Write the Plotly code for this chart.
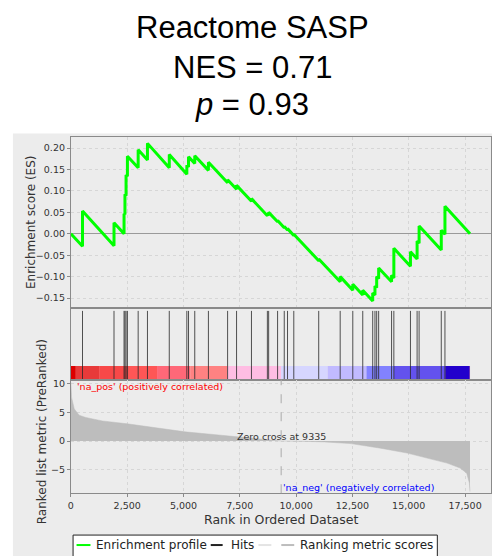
import plotly.graph_objects as go

W, H = 492, 556

# ---------------- data ----------------
n_genes = 17720
zero_cross = 9335

hit_ranks = [516, 1915, 2360, 2400, 2450, 2510, 2987, 3400, 4368, 5148, 5223, 5500,
             6106, 6958, 7355, 8017, 8723, 8780, 9177, 9473, 9618, 9896, 11003, 11956,
             12516, 12958, 13400, 13500, 13576, 13664, 14237, 14339, 15076, 15371, 15460,
             16444, 16607]
es_before = [-0.029, -0.028, 0.000, 0.045, 0.089, 0.134, 0.154, 0.172, 0.154, 0.139, 0.156, 0.164,
             0.148, 0.119, 0.104, 0.076, 0.042, 0.043, 0.028, 0.014, 0.009, -0.004, -0.063, -0.112,
             -0.132, -0.143, -0.157, -0.143, -0.126, -0.105, -0.112, -0.103, -0.076, -0.059, -0.022,
             -0.038, -0.001]
es_after = [0.053, 0.026, 0.047, 0.092, 0.137, 0.181, 0.196, 0.211, 0.185, 0.160, 0.180, 0.182,
            0.167, 0.126, 0.113, 0.082, 0.046, 0.050, 0.031, 0.017, 0.012, -0.001, -0.059, -0.100,
            -0.118, -0.132, -0.138, -0.122, -0.100, -0.080, -0.097, -0.034, -0.042, -0.017, 0.018,
            0.008, 0.064]

metric_ranks = [0, 30, 150, 370, 660, 1400, 2500, 3600, 5070, 6550, 7575, 8500, 9335,
                10300, 11250, 12430, 13750, 14930, 15810, 16700, 17280, 17575, 17690, 17720]
metric_values = [10.2, 7.6, 5.6, 4.5, 4.1, 3.5, 3.0, 2.4, 1.6, 1.05, 0.7, 0.33, 0.0,
                 -0.05, -0.15, -0.45, -1.25, -2.1, -3.0, -3.85, -4.7, -5.6, -7.3, -8.8]

bar_edges = [0, 220, 1253, 2577, 3825, 5295, 6945, 9335, 11400, 13121, 14339, 16620, 17690, 17720]
bar_colors = ['#dd0000', '#e83a3a', '#f84848', '#ff5656', '#ff6878', '#ff8282', '#ffbde3',
              '#d6d6ff', '#c1baff', '#8282ff', '#6352ee', '#2200cc', '#5200a6']

x_ticks = [0, 2500, 5000, 7500, 10000, 12500, 15000, 17500]
es_ticks = [0.20, 0.15, 0.10, 0.05, 0.00, -0.05, -0.10, -0.15]
metric_ticks = [10, 5, 0, -5]

title_lines = ["Reactome SASP", "NES = 0.71", "<i>p</i> = 0.93"]
legend_labels = ["Enrichment profile", "Hits", "", "Ranking metric scores"]
legend_colors = ["#00ff00", "#222222", "#e4e4e4", "#bdbdbd"]

# ---------------- helpers (pixel -> paper) ----------------
def px(x):
    return x / W

def py(y):
    return 1 - y / H

x_dom = [px(68.3), px(490.5)]
x_range = [0, 18630]
es_dom = [py(307), py(135)]
hits_dom = [py(379), py(307)]
met_dom = [py(493), py(379)]

TICKFONT = dict(family="DejaVu Sans", size=9.5, color="#333333")
GRID = "#d6d6d6"
BORDER = "#8a8a8a"

# ---------------- traces ----------------
es_x = [0]
es_y = [0.0]
for r, b, a in zip(hit_ranks, es_before, es_after):
    es_x += [r, r]
    es_y += [b, a]
es_x.append(n_genes)
es_y.append(0.0)

hx, hy = [], []
for r in hit_ranks:
    hx += [r, r, None]
    hy += [0.0, 0.958, None]

fig = go.Figure()
fig.add_trace(go.Scatter(x=metric_ranks, y=metric_values, mode="lines", fill="tozeroy",
                         fillcolor="#bdbdbd", line=dict(color="#bdbdbd", width=0.5),
                         xaxis="x3", yaxis="y3", hoverinfo="skip"))
fig.add_trace(go.Scatter(x=hx, y=hy, mode="lines", line=dict(color="rgba(40,40,40,0.8)", width=1),
                         xaxis="x2", yaxis="y2", hoverinfo="skip"))
fig.add_trace(go.Scatter(x=es_x, y=es_y, mode="lines", line=dict(color="#00ff00", width=3),
                         xaxis="x", yaxis="y", hoverinfo="skip"))

shapes = []
# gray panel background
shapes.append(dict(type="rect", xref="paper", yref="paper", x0=px(10), x1=1.01, y0=-0.01, y1=py(132),
                   fillcolor="#ececec", line=dict(width=0), layer="below"))
# colour bar
for i, c in enumerate(bar_colors):
    shapes.append(dict(type="rect", xref="x2", yref="y2", x0=bar_edges[i], x1=bar_edges[i + 1],
                       y0=0, y1=0.19, fillcolor=c, line=dict(width=0), layer="below"))
# zero-cross dashed line
shapes.append(dict(type="line", xref="x3", yref="y3 domain", x0=zero_cross, x1=zero_cross, y0=0, y1=1,
                   line=dict(color="#aaaaaa", width=1, dash="dash")))
# legend box
shapes.append(dict(type="rect", xref="paper", yref="paper", x0=px(70.5), x1=px(437), y0=py(560), y1=py(535),
                   fillcolor="white", line=dict(color="#222222", width=1)))
leg_line_x = [(74, 88), (209, 221), (257, 270), (280, 293)]
for (a, b), c in zip(leg_line_x, legend_colors):
    shapes.append(dict(type="line", xref="paper", yref="paper", x0=px(a), x1=px(b), y0=py(545), y1=py(545),
                       line=dict(color=c, width=2)))

annotations = []
for txt, yc in zip(title_lines, [26, 65.5, 103]):
    annotations.append(dict(text=txt, xref="paper", yref="paper", x=px(251), y=py(yc), xanchor="center",
                            yanchor="middle", showarrow=False,
                            font=dict(family="Liberation Sans, Arial", size=31, color="#000000")))
annotations.append(dict(text="Enrichment score (ES)", xref="paper", yref="paper", x=px(28), y=py(221),
                        textangle=-90, showarrow=False, xanchor="center", yanchor="middle",
                        font=dict(family="DejaVu Sans", size=12, color="#333333")))
annotations.append(dict(text="Ranked list metric (PreRanked)", xref="paper", yref="paper", x=px(40), y=py(431),
                        textangle=-90, showarrow=False, xanchor="center", yanchor="middle",
                        font=dict(family="DejaVu Sans", size=12, color="#333333")))
annotations.append(dict(text="Rank in Ordered Dataset", xref="paper", yref="paper", x=px(279.5), y=py(519),
                        showarrow=False, xanchor="center", yanchor="middle",
                        font=dict(family="DejaVu Sans", size=12.5, color="#333333")))
annotations.append(dict(text="'na_pos' (positively correlated)", xref="paper", yref="paper", x=px(72),
                        y=py(386), showarrow=False, xanchor="left", yanchor="middle",
                        font=dict(family="DejaVu Sans", size=9.5, color="#ff0000")))
annotations.append(dict(text="Zero cross at " + str(zero_cross), xref="x3", yref="paper", x=zero_cross,
                        y=py(436.5), showarrow=False, xanchor="center", yanchor="middle",
                        font=dict(family="DejaVu Sans", size=9.5, color="#333333")))
annotations.append(dict(text="'na_neg' (negatively correlated)", xref="x3", yref="paper", x=zero_cross,
                        y=py(487.5), showarrow=False, xanchor="left", yanchor="middle",
                        font=dict(family="DejaVu Sans", size=9.5, color="#0000ff")))
leg_text_x = [92, 227, None, 297]
for t, lx in zip(legend_labels, leg_text_x):
    if lx is None:
        continue
    annotations.append(dict(text=t, xref="paper", yref="paper", x=px(lx), y=py(545), showarrow=False,
                            xanchor="left", yanchor="middle",
                            font=dict(family="DejaVu Sans", size=12, color="#222222")))

common_x = dict(range=x_range, domain=x_dom, showline=True, mirror=True, linecolor=BORDER, linewidth=1,
                zeroline=False, tickvals=x_ticks, tickfont=TICKFONT)

fig.update_layout(
    width=W, height=H, margin=dict(l=0, r=0, t=0, b=0),
    paper_bgcolor="white", plot_bgcolor="white", showlegend=False,
    xaxis=dict(common_x, anchor="y", showticklabels=False, ticks="", showgrid=True, gridcolor=GRID,
               griddash="dot"),
    yaxis=dict(domain=es_dom, range=[-0.173, 0.227], anchor="x", tickvals=es_ticks, tickformat=".2f",
               ticks="outside", ticklen=3, tickcolor=BORDER, tickfont=TICKFONT, showgrid=True,
               gridcolor=GRID, griddash="dot", zeroline=True, zerolinecolor="#9a9a9a", zerolinewidth=1,
               showline=True, mirror=True, linecolor=BORDER),
    xaxis2=dict(common_x, anchor="y2", showticklabels=False, ticks="", showgrid=False),
    yaxis2=dict(domain=hits_dom, range=[0, 1], anchor="x2", showticklabels=False, ticks="", showgrid=False,
                zeroline=False, showline=True, mirror=True, linecolor=BORDER),
    xaxis3=dict(common_x, anchor="y3", tickformat=",d", ticks="outside", ticklen=3, tickcolor=BORDER,
                showgrid=True, gridcolor=GRID, griddash="dot"),
    yaxis3=dict(domain=met_dom, range=[-9.1, 10.7], anchor="x3", tickvals=metric_ticks, ticks="outside",
                ticklen=3, tickcolor=BORDER, tickfont=TICKFONT, showgrid=True, gridcolor=GRID,
                griddash="dot", zeroline=False, showline=True, mirror=True, linecolor=BORDER),
    shapes=shapes, annotations=annotations,
)

fig.write_html("out.html")
